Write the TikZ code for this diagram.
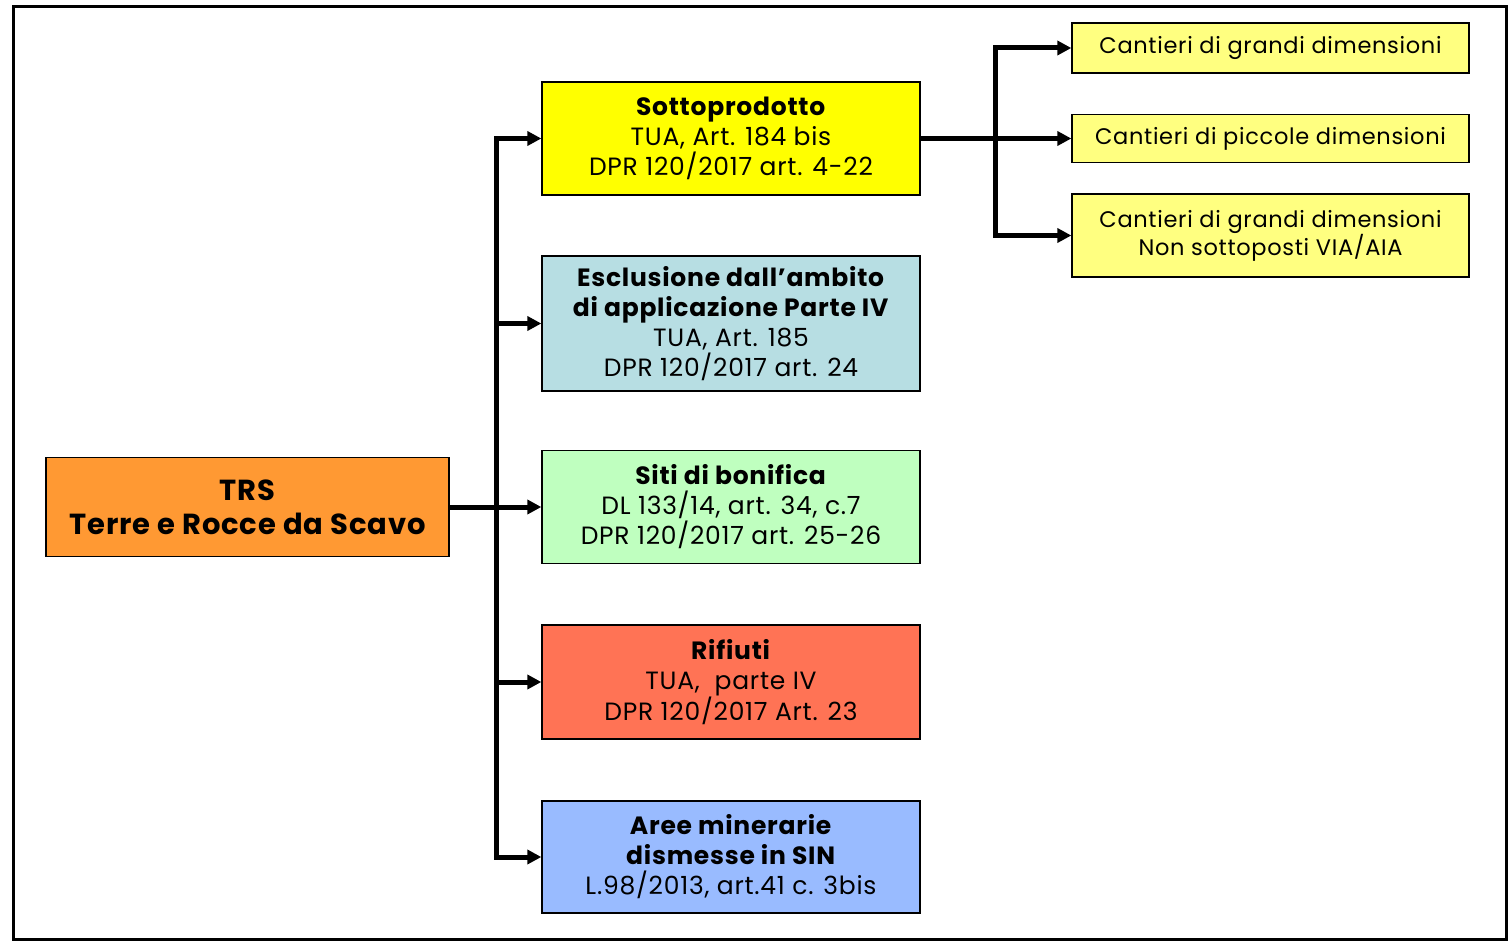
\documentclass[tikz,border=0pt]{standalone}
\usepackage{fontspec}
\setmainfont{Poppins}[LetterSpace=3]
\usetikzlibrary{arrows.meta}
\definecolor{trsorange}{HTML}{FF9933}
\definecolor{sottoyellow}{HTML}{FFFF00}
\definecolor{esclblue}{HTML}{B7DEE3}
\definecolor{sitigreen}{HTML}{BFFFBF}
\definecolor{rifred}{HTML}{FF7355}
\definecolor{areeblue}{HTML}{99BBFF}
\definecolor{cantyellow}{HTML}{FFFF80}
\tikzset{
  box/.style={draw=black, line width=1.3pt, inner sep=0pt, align=center,
    font=\fontsize{25}{30}\selectfont},
  catbox/.style={box, minimum width=378pt, minimum height=113pt},
  cantbox/.style={box, fill=cantyellow, minimum width=397pt,
    font=\fontsize{22.5}{26}\selectfont},
  arr/.style={line width=5pt, -{Triangle[length=14pt,width=14pt]}},
}
\begin{document}
\begin{tikzpicture}[x=1pt,y=-1pt]
  \useasboundingbox (0,0) rectangle (1509,944);
  % outer frame
  \draw[line width=3pt] (13,7) rectangle (1506,939);

  % root
  \node[box, fill=trsorange, minimum width=403pt, minimum height=99pt,
        font=\fontsize{29}{34}\selectfont\bfseries]
    (trs) at (247.5,507) {TRS\\Terre e Rocce da Scavo};

  % categories
  \node[catbox, fill=sottoyellow] (sotto) at (731,138.5)
    {\textbf{Sottoprodotto}\\TUA, Art. 184 bis\\DPR 120/2017 art. 4-22};
  \node[catbox, fill=esclblue, minimum height=135pt] (escl) at (731,323.5)
    {\textbf{Esclusione dall’ambito}\\\textbf{di applicazione Parte IV}\\TUA, Art. 185\\DPR 120/2017 art. 24};
  \node[catbox, fill=sitigreen] (siti) at (731,507)
    {\textbf{Siti di bonifica}\\DL 133/14, art. 34, c.7\\DPR 120/2017 art. 25-26};
  \node[catbox, fill=rifred, minimum height=114pt] (rif) at (731,682)
    {\textbf{Rifiuti}\\TUA,\ \ parte IV\\DPR 120/2017 Art. 23};
  \node[catbox, fill=areeblue, minimum height=112pt] (aree) at (731,857)
    {\textbf{Aree minerarie}\\\textbf{dismesse in SIN}\\L.98/2013, art.41 c. 3bis};

  % sub-categories of Sottoprodotto
  \node[cantbox, minimum height=50pt] (c1) at (1270.5,48)
    {Cantieri di grandi dimensioni};
  \node[cantbox, minimum height=48pt] (c2) at (1270.5,138.5)
    {Cantieri di piccole dimensioni};
  \node[cantbox, minimum height=83pt] (c3) at (1270.5,235.5)
    {Cantieri di grandi dimensioni\\Non sottoposti VIA/AIA};

  % connectors from the root
  \coordinate (j) at (496,507);
  \draw[arr] (trs.east) -- (siti.west);
  \draw[arr] (j) |- (sotto.west);
  \draw[arr] (j) |- (escl.west);
  \draw[arr] (j) |- (rif.west);
  \draw[arr] (j) |- (aree.west);

  % connectors from Sottoprodotto
  \coordinate (k) at (995,138.5);
  \draw[arr] (sotto.east) -- (c2.west);
  \draw[arr] (k) |- (c1.west);
  \draw[arr] (k) |- (c3.west);
\end{tikzpicture}
\end{document}
